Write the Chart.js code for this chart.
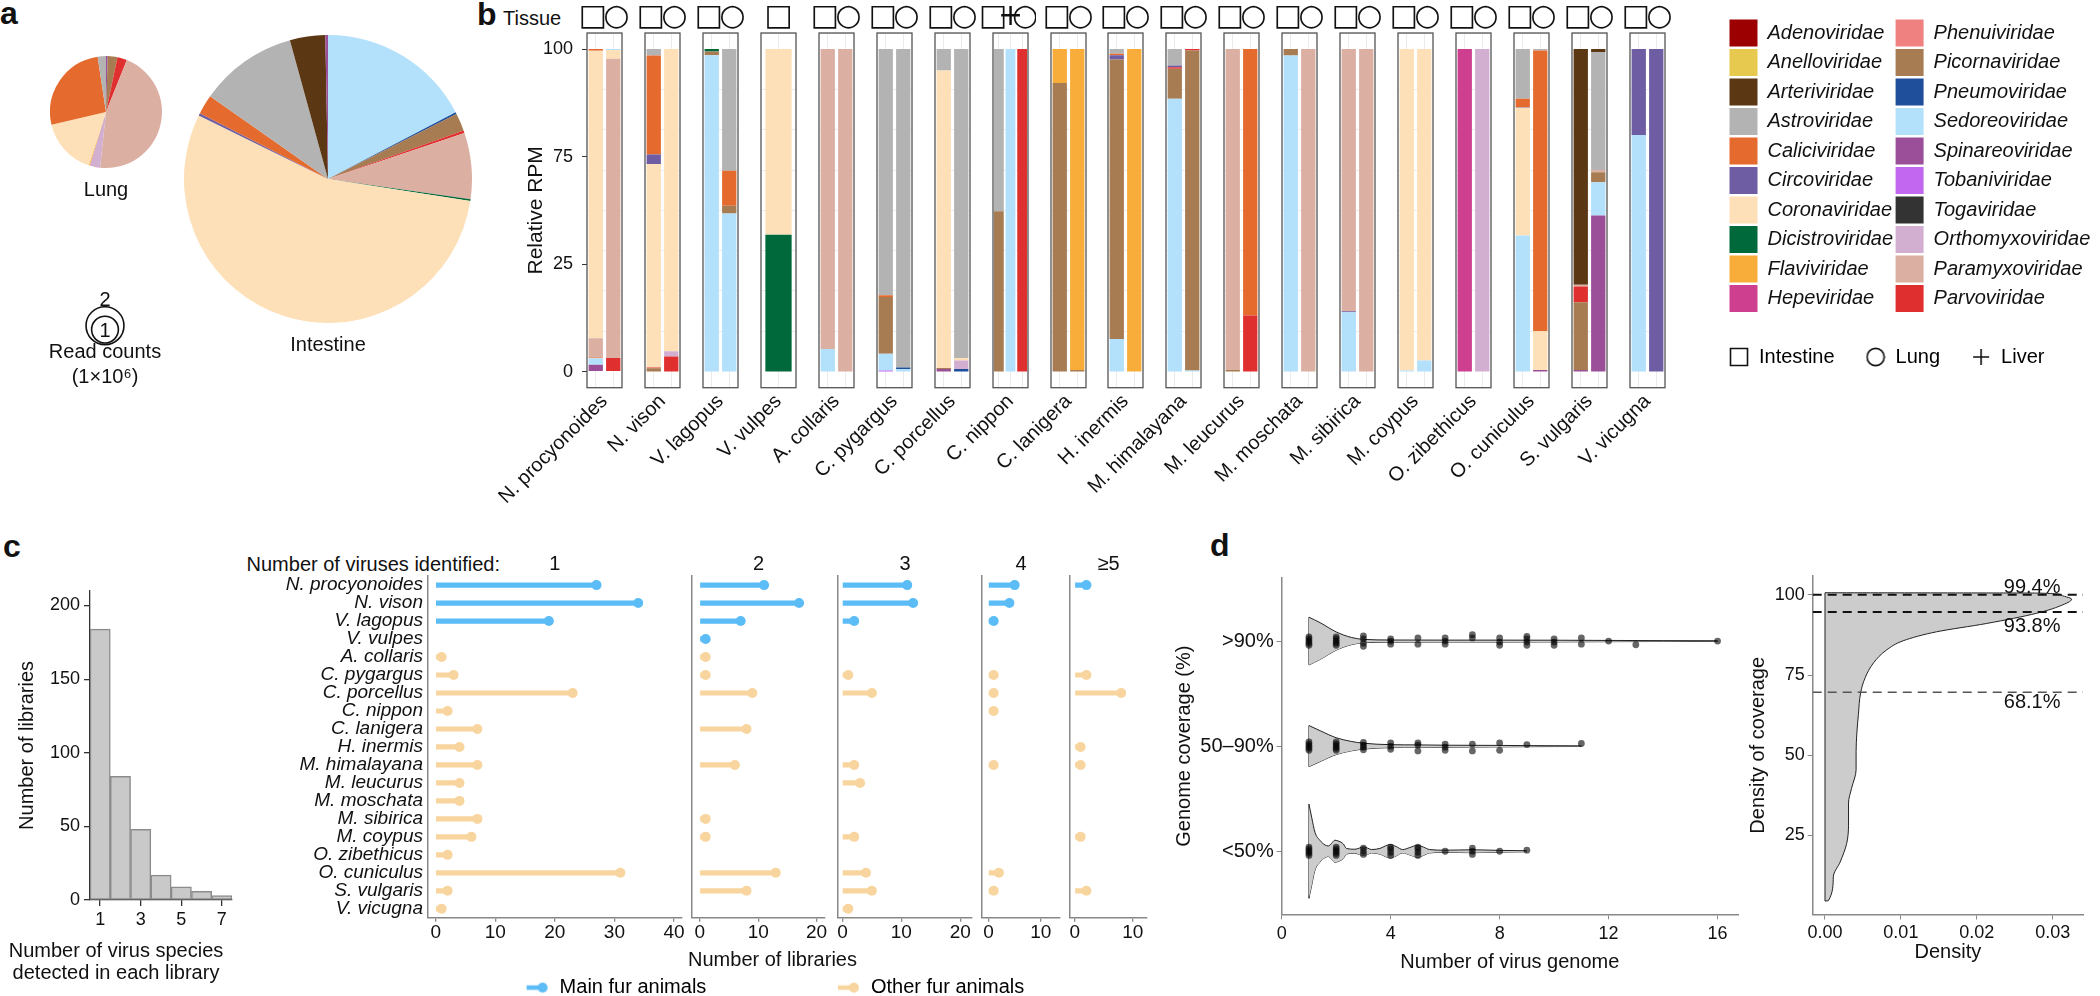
<!DOCTYPE html>
<html>
<head>
<meta charset="utf-8">
<script src="https://cdn.jsdelivr.net/npm/chart.js@4.4.1/dist/chart.umd.min.js"></script>
<style>
html, body { margin: 0; padding: 0; background: #fff; overflow: hidden; }
#page { position: relative; width: 2100px; height: 996px; overflow: hidden; font-family: "Liberation Sans", Arial, sans-serif; color: #111; }
#page canvas { position: absolute; }
.lbl { position: absolute; white-space: nowrap; }
.panel { font-weight: bold; font-size: 32px; line-height: 32px; }
</style>
</head>
<body>
<div id="page">
  <div class="lbl panel" style="left:0px;top:-3px">a</div>
  <div class="lbl panel" style="left:477px;top:-2px">b</div>
  <div class="lbl" style="left:503px;top:8px;font-size:20px;line-height:20px">Tissue</div>
  <div class="lbl panel" style="left:3px;top:530px">c</div>
  <div class="lbl" style="left:180px;width:320px;text-align:right;top:553px;font-size:20px;line-height:22px">Number of viruses identified:</div>
  <div class="lbl panel" style="left:1210px;top:529px">d</div>
</div>
<script>
// ---------- data ----------
const families = ['Adenoviridae', 'Anelloviridae', 'Arteriviridae', 'Astroviridae', 'Caliciviridae',
  'Circoviridae', 'Coronaviridae', 'Dicistroviridae', 'Flaviviridae', 'Hepeviridae',
  'Phenuiviridae', 'Picornaviridae', 'Pneumoviridae', 'Sedoreoviridae', 'Spinareoviridae',
  'Tobaniviridae', 'Togaviridae', 'Orthomyxoviridae', 'Paramyxoviridae', 'Parvoviridae'];
const familyColors = ['#9c0000', '#e8c94f', '#5b3713', '#b3b3b3', '#e56a2e',
  '#6e5da2', '#fde0b7', '#00693c', '#f8ad3a', '#cf3f8f',
  '#f08181', '#a77c53', '#1f4e9b', '#b3e0fb', '#9b4f98',
  '#c267f0', '#333333', '#d2afd1', '#dcafa3', '#e02f2f'];

// panel a: share of reads, clockwise from 12 o'clock
const lungFamilies = ['Spinareoviridae', 'Picornaviridae', 'Parvoviridae', 'Paramyxoviridae', 'Orthomyxoviridae',
  'Flaviviridae', 'Coronaviridae', 'Caliciviridae', 'Astroviridae'];
const lungShares = [0.5, 2.8, 2.8, 45.8, 3.0, 0.3, 16.4, 26.4, 2.4];
const intestineFamilies = ['Sedoreoviridae', 'Pneumoviridae', 'Picornaviridae', 'Parvoviridae', 'Paramyxoviridae',
  'Dicistroviridae', 'Coronaviridae', 'Circoviridae', 'Caliciviridae', 'Astroviridae', 'Arteriviridae', 'Spinareoviridae'];
const intestineShares = [17.5, 0.2, 2.0, 0.3, 7.5, 0.2, 55.3, 0.3, 2.2, 11.1, 4.0, 0.3];
const readCountLegend = [2, 1]; // x10^6 reads

// panel b: relative RPM per library, segments bottom -> top
const bSpecies = ['N. procyonoides', 'N. vison', 'V. lagopus', 'V. vulpes', 'A. collaris', 'C. pygargus',
  'C. porcellus', 'C. nippon', 'C. lanigera', 'H. inermis', 'M. himalayana', 'M. leucurus', 'M. moschata',
  'M. sibirica', 'M. coypus', 'O. zibethicus', 'O. cuniculus', 'S. vulgaris', 'V. vicugna'];
const bTissues = [['Intestine', 'Lung'], ['Intestine', 'Lung'], ['Intestine', 'Lung'], ['Intestine'],
  ['Intestine', 'Lung'], ['Intestine', 'Lung'], ['Intestine', 'Lung'], ['Intestine', 'Liver', 'Lung'],
  ['Intestine', 'Lung'], ['Intestine', 'Lung'], ['Intestine', 'Lung'], ['Intestine', 'Lung'], ['Intestine', 'Lung'],
  ['Intestine', 'Lung'], ['Intestine', 'Lung'], ['Intestine', 'Lung'], ['Intestine', 'Lung'], ['Intestine', 'Lung'],
  ['Intestine', 'Lung']];
const bTickValues = [0, 33.33, 66.67, 100];
const bTickLabels = ['0', '25', '75', '100'];

const procyonoidesRPM = [
  [['Spinareoviridae', 2.1], ['Sedoreoviridae', 2.0], ['Caliciviridae', 0.3], ['Paramyxoviridae', 5.9], ['Coronaviridae', 89.2], ['Caliciviridae', 0.5]],
  [['Parvoviridae', 4.2], ['Paramyxoviridae', 92.8], ['Coronaviridae', 2.7], ['Sedoreoviridae', 0.3]]];
const visonRPM = [
  [['Picornaviridae', 1.0], ['Parvoviridae', 0.3], ['Coronaviridae', 63.1], ['Circoviridae', 2.9], ['Caliciviridae', 30.7], ['Astroviridae', 2.0]],
  [['Parvoviridae', 4.7], ['Orthomyxoviridae', 1.6], ['Coronaviridae', 93.7]]];
const lagopusRPM = [
  [['Sedoreoviridae', 98.1], ['Picornaviridae', 1.2], ['Dicistroviridae', 0.7]],
  [['Sedoreoviridae', 49.0], ['Picornaviridae', 2.4], ['Caliciviridae', 10.9], ['Astroviridae', 37.7]]];
const vulpesRPM = [
  [['Dicistroviridae', 42.4], ['Coronaviridae', 57.6]]];
const collarisRPM = [
  [['Sedoreoviridae', 7.0], ['Paramyxoviridae', 93.0]],
  [['Paramyxoviridae', 100]]];
const pygargusRPM = [
  [['Tobaniviridae', 0.3], ['Sedoreoviridae', 5.2], ['Picornaviridae', 17.6], ['Caliciviridae', 0.6], ['Astroviridae', 76.3]],
  [['Sedoreoviridae', 0.8], ['Pneumoviridae', 0.5], ['Astroviridae', 98.7]]];
const porcellusRPM = [
  [['Spinareoviridae', 0.8], ['Picornaviridae', 0.3], ['Coronaviridae', 92.3], ['Astroviridae', 6.6]],
  [['Pneumoviridae', 0.8], ['Orthomyxoviridae', 2.6], ['Coronaviridae', 0.8], ['Astroviridae', 95.8]]];
const nipponRPM = [
  [['Picornaviridae', 49.7], ['Astroviridae', 50.3]],
  [['Sedoreoviridae', 100]],
  [['Parvoviridae', 100]]];
const lanigeraRPM = [
  [['Picornaviridae', 89.5], ['Flaviviridae', 10.5]],
  [['Picornaviridae', 0.5], ['Flaviviridae', 99.5]]];
const inermisRPM = [
  [['Sedoreoviridae', 10.1], ['Picornaviridae', 86.7], ['Circoviridae', 1.3], ['Caliciviridae', 0.5], ['Astroviridae', 1.4]],
  [['Flaviviridae', 100]]];
const himalayanaRPM = [
  [['Sedoreoviridae', 84.6], ['Picornaviridae', 9.3], ['Parvoviridae', 0.5], ['Circoviridae', 0.5], ['Astroviridae', 5.1]],
  [['Sedoreoviridae', 0.3], ['Picornaviridae', 99.3], ['Parvoviridae', 0.4]]];
const leucurusRPM = [
  [['Picornaviridae', 0.5], ['Paramyxoviridae', 99.5]],
  [['Parvoviridae', 17.4], ['Caliciviridae', 82.6]]];
const moschataRPM = [
  [['Sedoreoviridae', 98.0], ['Picornaviridae', 2.0]],
  [['Paramyxoviridae', 100]]];
const sibiricaRPM = [
  [['Sedoreoviridae', 18.4], ['Circoviridae', 0.3], ['Paramyxoviridae', 81.3]],
  [['Paramyxoviridae', 100]]];
const coypusRPM = [
  [['Sedoreoviridae', 0.3], ['Coronaviridae', 99.7]],
  [['Sedoreoviridae', 3.4], ['Coronaviridae', 96.6]]];
const zibethicusRPM = [
  [['Hepeviridae', 100]],
  [['Orthomyxoviridae', 100]]];
const cuniculusRPM = [
  [['Sedoreoviridae', 42.2], ['Coronaviridae', 39.6], ['Circoviridae', 0.2], ['Caliciviridae', 2.6], ['Astroviridae', 15.4]],
  [['Spinareoviridae', 0.5], ['Coronaviridae', 12.0], ['Caliciviridae', 87.1], ['Astroviridae', 0.4]]];
const vulgarisRPM = [
  [['Spinareoviridae', 0.5], ['Picornaviridae', 21.0], ['Parvoviridae', 4.9], ['Paramyxoviridae', 0.5], ['Arteriviridae', 73.1]],
  [['Spinareoviridae', 48.4], ['Sedoreoviridae', 10.3], ['Picornaviridae', 3.1], ['Paramyxoviridae', 0.7], ['Astroviridae', 36.6], ['Arteriviridae', 0.9]]];
const vicugnaRPM = [
  [['Sedoreoviridae', 73.4], ['Circoviridae', 26.6]],
  [['Circoviridae', 100]]];

// panel c
const hSpeciesCounts = ['1', '2', '3', '4', '5', '6', '7'];
const hLibraries = [184, 84, 48, 17, 9, 6, 3];
const cMainAnimals = ['N. procyonoides', 'N. vison', 'V. lagopus', 'V. vulpes'];
const cFacetTitles = ['1', '2', '3', '4', '\u22655'];
const cLib1 = [27, 34, 19, null, 1, 3, 23, 2, 7, 4, 7, 4, 4, 7, 6, 2, 31, 2, 1];
const cLib2 = [11, 17, 7, 1, 1, 1, 9, null, 8, null, 6, null, null, 1, 1, null, 13, 8, null];
const cLib3 = [11, 12, 2, null, null, 1, 5, null, null, null, 2, 3, null, null, 2, null, 4, 5, 1];
const cLib4 = [5, 4, 1, null, null, 1, 1, 1, null, null, 1, null, null, null, null, null, 2, 1, null];
const cLib5 = [2, null, null, null, null, 2, 8, null, null, 1, 1, null, null, null, 1, null, null, 2, null];
const cLegendLabels = ['Main fur animals', 'Other fur animals'];

// panel d: violin half-widths (in group units) and points [x, jitter]
const vGroups = ['<50%', '50\u201390%', '>90%'];
const vLt50X = [1, 1.1, 1.22, 1.4, 1.59, 1.71, 1.83, 1.95, 2.1, 2.26, 2.38, 2.69, 2.85, 2.99, 3.15, 3.3, 3.64, 3.8, 3.99, 4.2, 4.44, 4.7, 4.99, 5.2, 5.43, 6, 7, 8, 9];
const vLt50W = [0.448, 0.324, 0.181, 0.105, 0.06, 0.05, 0.075, 0.105, 0.095, 0.07, 0.026, 0.019, 0.03, 0.041, 0.03, 0.016, 0.03, 0.05, 0.064, 0.045, 0.016, 0.035, 0.057, 0.04, 0.016, 0.01, 0.014, 0.008, 0.005];
const v50X = [1, 1.41, 2, 2.55, 3, 4, 5, 6, 7, 8, 9, 10, 11];
const v50W = [0.196, 0.147, 0.08, 0.045, 0.028, 0.014, 0.012, 0.009, 0.008, 0.007, 0.005, 0.004, 0.003];
const vGt90X = [1, 1.41, 2, 2.55, 3, 4, 6, 8, 10, 12, 14, 16];
const vGt90W = [0.227, 0.175, 0.087, 0.035, 0.016, 0.01, 0.009, 0.009, 0.008, 0.006, 0.004, 0.003];
const vLt50Dots = [[1, -0.04], [1, -0.02], [1, 0], [1, 0.02], [1, 0.04], [2, -0.04], [2, -0.02], [2, 0], [2, 0.02], [2, 0.04],
  [3, -0.03], [3, 0], [3, 0.03], [4, -0.04], [4, -0.01], [4, 0.02], [4, 0.04], [5, -0.04], [5, -0.01], [5, 0.02], [5, 0.04],
  [6, 0], [7, -0.03], [7, 0], [7, 0.03], [8, 0], [9, 0.01]];
const v50Dots = [[1, -0.04], [1, -0.02], [1, 0], [1, 0.02], [1, 0.04], [2, -0.04], [2, -0.02], [2, 0], [2, 0.02], [2, 0.04],
  [3, -0.035], [3, -0.01], [3, 0.01], [3, 0.035], [4, -0.03], [4, 0], [4, 0.03], [5, -0.045], [5, 0.01], [5, 0.03],
  [6, -0.04], [6, -0.01], [6, 0.02], [7, -0.045], [7, 0.02], [8, -0.04], [8, 0.03], [9, 0.015], [11, 0.025]];
const vGt90Dots = [[1, -0.04], [1, -0.02], [1, 0], [1, 0.02], [1, 0.04], [2, -0.04], [2, -0.02], [2, 0], [2, 0.02], [2, 0.04],
  [3, -0.05], [3, -0.02], [3, 0.02], [3, 0.05], [4, -0.03], [4, 0], [4, 0.02], [5, -0.03], [5, 0.03], [6, -0.03], [6, 0], [6, 0.03],
  [7, 0.03], [7, 0.06], [8, -0.04], [8, -0.01], [8, 0.03], [9, -0.04], [9, -0.01], [9, 0.02], [9, 0.045],
  [10, -0.04], [10, -0.01], [10, 0.02], [11, -0.03], [11, 0.03], [12, 0], [13, -0.035], [16, 0]];

// panel d: density of genome coverage [density, coverage]
const dCurve = [[0, 4.4], [0.00044, 4.5], [0.0011, 12], [0.002, 16.6], [0.00286, 22.4], [0.0031, 28.1], [0.0031, 35],
  [0.0035, 39.6], [0.0041, 45.4], [0.0041, 51.1], [0.0042, 56.9], [0.0044, 62.6], [0.0047, 69.5], [0.0053, 74.2],
  [0.0064, 78.8], [0.0081, 82.8], [0.0103, 85.7], [0.0147, 88.5], [0.0213, 91.1], [0.0279, 94.3], [0.031, 96.6],
  [0.0325, 98.7], [0.031, 100.1], [0.0279, 100.6], [0, 100.7]];
const dCutoffs = [100.1, 94.7, 69.6];
const dCutoffLabels = ['99.4%', '93.8%', '68.1%'];
const dCutoffLabelY = [102.4, 90.3, 66.4];

// ---------- helpers ----------
Chart.defaults.font.family = '"Liberation Sans", Arial, sans-serif';
Chart.defaults.font.size = 18;
Chart.defaults.color = '#111';
Chart.defaults.animation = false;
Chart.defaults.responsive = false;
Chart.defaults.events = [];
Chart.defaults.plugins.legend.display = false;
Chart.defaults.plugins.tooltip.enabled = false;
Chart.defaults.elements.point.radius = 0;

const page = document.getElementById('page');
function addCanvas(left, top, width, height) {
  const c = document.createElement('canvas');
  c.width = Math.round(width);
  c.height = Math.round(height);
  c.style.left = Math.round(left) + 'px';
  c.style.top = Math.round(top) + 'px';
  page.appendChild(c);
  return c.getContext('2d');
}
function fixWidth(w) { return s => { s.width = w; s.paddingTop = 0; s.paddingBottom = 0; }; }
function fixHeight(h) { return s => { s.height = h; s.paddingLeft = 0; s.paddingRight = 0; }; }
function familyColor(f) { return familyColors[families.indexOf(f)]; }

const boxPlugin = {
  id: 'box',
  afterDatasetsDraw(chart) {
    const { ctx, chartArea: a } = chart;
    ctx.save();
    ctx.strokeStyle = '#555';
    ctx.lineWidth = 1.3;
    ctx.strokeRect(a.left, a.top, a.right - a.left, a.bottom - a.top);
    ctx.restore();
  }
};

// ---------- panel a ----------
function pieChart(ctx, labels, values, title) {
  return new Chart(ctx, {
    type: 'pie',
    data: { labels: labels, datasets: [{ data: values, backgroundColor: labels.map(familyColor), borderWidth: 0 }] },
    options: {
      layout: { padding: 0 },
      plugins: { title: { display: true, text: title, position: 'bottom', color: '#111',
        font: { size: 20, weight: 'normal' }, padding: { top: 10, bottom: 0 } } }
    }
  });
}
pieChart(addCanvas(50, 56, 112, 146), lungFamilies, lungShares, 'Lung');
pieChart(addCanvas(184, 35, 288, 322), intestineFamilies, intestineShares, 'Intestine');

const readRadius = v => 13.4 * Math.sqrt(v);
const bubbleText = {
  id: 'bubbleText',
  afterDatasetsDraw(chart) {
    const ctx = chart.ctx;
    ctx.save();
    ctx.font = '20px "Liberation Sans", Arial';
    ctx.fillStyle = '#111';
    ctx.textAlign = 'center';
    chart.getDatasetMeta(0).data.forEach((p, i) => {
      if (i === 0) { ctx.textBaseline = 'alphabetic'; ctx.fillText(String(readCountLegend[i]), p.x, p.y - p.options.radius - 1); }
      else { ctx.textBaseline = 'middle'; ctx.fillText(String(readCountLegend[i]), p.x, p.y + 2); }
    });
    ctx.restore();
  }
};
new Chart(addCanvas(45, 270, 120, 120), {
  type: 'bubble',
  data: { datasets: [{ data: readCountLegend.map(v => ({ x: 0, y: readRadius(v), r: readRadius(v) })),
    backgroundColor: 'rgba(0,0,0,0)', borderColor: '#111', borderWidth: 1.6, clip: false }] },
  options: {
    layout: { padding: 0 },
    scales: { x: { display: false, min: -1, max: 1 }, y: { display: false, min: 0, max: 69 } },
    plugins: { title: { display: true, position: 'bottom', text: ['Read counts', '(1\u00d710\u2076)'], color: '#111',
      font: { size: 20, weight: 'normal', lineHeight: 1.25 }, padding: { top: 1, bottom: 0 } } }
  },
  plugins: [bubbleText]
});

// ---------- panel b ----------
const bRPM = [procyonoidesRPM, visonRPM, lagopusRPM, vulpesRPM, collarisRPM, pygargusRPM, porcellusRPM, nipponRPM,
  lanigeraRPM, inermisRPM, himalayanaRPM, leucurusRPM, moschataRPM, sibiricaRPM, coypusRPM, zibethicusRPM,
  cuniculusRPM, vulgarisRPM, vicugnaRPM];
const tissueGlyph = { Intestine: '\u25A1', Lung: '\u25CB', Liver: '+' };
const bFacetLeft = 587, bFacetStep = 57.94, bFacetWidth = 34.6, bTop = 33, bBottom = 387.7;
const bPadL = 130, bCanvasH = 520;
// nudge first/last symbols apart so they sit side by side like the original key
function glyphLabel(tissues, j) {
  const g = tissueGlyph[tissues[j]];
  if (tissues.length === 1) return g;
  if (j === 0) return g + (tissues.length === 3 ? '\u2009\u2009' : '\u2009');
  if (j === tissues.length - 1) return '\u2009' + g;
  return g;
}

bSpecies.forEach((sp, i) => {
  const bars = bRPM[i];
  const tissues = bTissues[i];
  const n = tissues.length;
  const left = Math.round(bFacetLeft + i * bFacetStep);
  const cw = bPadL + bFacetWidth + 8;
  const ctx = addCanvas(left - bPadL, 0, cw, bCanvasH);
  const nSeg = Math.max(...bars.map(b => b.length));
  const datasets = [];
  for (let k = 0; k < nSeg; k++) {
    datasets.push({
      data: bars.map(b => (b[k] ? b[k][1] : 0)),
      backgroundColor: bars.map(b => (b[k] ? familyColor(b[k][0]) : 'rgba(0,0,0,0)')),
      borderWidth: 0, barPercentage: 0.9 * n / (n + 0.2), categoryPercentage: 1,
      xAxisID: 'x', yAxisID: 'y', stack: 'rpm'
    });
  }
  const yScale = {
    display: i === 0, stacked: true, min: -5, max: 105, position: 'left',
    afterBuildTicks: s => { s.ticks = bTickValues.map(v => ({ value: v })); },
    ticks: { callback: (v, j) => bTickLabels[j], font: { size: 18 }, padding: 9, color: '#111' },
    grid: { display: true, drawOnChartArea: false, tickLength: 5, color: '#333' },
    border: { display: false },
    title: { display: true, text: 'Relative RPM', font: { size: 21 }, color: '#111', padding: { top: 67, bottom: 0 } }
  };
  if (i === 0) yScale.afterFit = fixWidth(bPadL);
  new Chart(ctx, {
    type: 'bar',
    data: { labels: tissues, datasets: datasets },
    options: {
      layout: { padding: { left: i === 0 ? 0 : bPadL, right: cw - bPadL - bFacetWidth, top: 0, bottom: 0 } },
      scales: {
        x: { position: 'top', stacked: true, offset: true,
          grid: { display: true, color: '#ebebeb', drawTicks: false, offset: false },
          border: { display: false },
          ticks: { autoSkip: false, maxRotation: 0, padding: 4, color: '#111',
            font: { family: '"DejaVu Sans"', size: 30, lineHeight: 0.8 },
            callback: (v, j) => glyphLabel(tissues, j) },
          afterFit: fixHeight(bTop) },
        x2: { type: 'category', axis: 'x', position: 'bottom', labels: [sp], offset: true,
          grid: { display: false, drawTicks: false }, border: { display: false },
          ticks: { minRotation: 45, maxRotation: 45, font: { size: 20 }, color: '#111', padding: 2 },
          afterFit: fixHeight(bCanvasH - bBottom) },
        y: yScale,
        yg: { type: 'linear', position: 'left', min: -5, max: 105,
          ticks: { display: false, stepSize: 12.5 }, grid: { color: '#ebebeb', drawTicks: false },
          border: { display: false }, afterFit: fixWidth(0) }
      }
    },
    plugins: [boxPlugin]
  });
});

// legend of virus families
new Chart(addCanvas(1727, 17, 420, 312), {
  type: 'bar',
  data: { datasets: families.map((f, i) => ({ label: f, data: [], backgroundColor: familyColors[i], borderWidth: 0 })) },
  options: {
    layout: { padding: 0 },
    scales: { x: { display: false }, y: { display: false } },
    plugins: { legend: { display: true, position: 'left', align: 'start', maxWidth: 420,
      labels: { boxWidth: 28, boxHeight: 27, padding: 2.5, color: '#111', font: { size: 20, style: 'italic' } } } }
  }
});

// legend of tissue symbols
function tissueSymbol(t) {
  const c = document.createElement('canvas');
  c.width = 20; c.height = 20;
  const g = c.getContext('2d');
  g.strokeStyle = '#111'; g.lineWidth = 1.6;
  g.beginPath();
  if (t === 'Intestine') g.rect(1.5, 1.5, 17, 17);
  else if (t === 'Lung') g.arc(10, 10, 8.6, 0, Math.PI * 2);
  else { g.moveTo(2, 10); g.lineTo(18, 10); g.moveTo(10, 2); g.lineTo(10, 18); }
  g.stroke();
  return c;
}
new Chart(addCanvas(1698, 316, 402, 110), {
  type: 'bar',
  data: { datasets: [] },
  options: {
    layout: { padding: 0 },
    scales: { x: { display: false }, y: { display: false } },
    plugins: { legend: { display: true, position: 'top', align: 'start', maxHeight: 110,
      labels: { usePointStyle: true, pointStyleWidth: 20, padding: 31, color: '#111', font: { size: 20 },
        generateLabels: () => ['Intestine', 'Lung', 'Liver'].map(t => ({ text: t, pointStyle: tissueSymbol(t),
          fillStyle: 'rgba(0,0,0,0)', strokeStyle: 'rgba(0,0,0,0)', lineWidth: 0, hidden: false })) } } }
  }
});

// ---------- panel c: histogram ----------
new Chart(addCanvas(0, 580, 306, 404), {
  type: 'bar',
  data: { labels: hSpeciesCounts, datasets: [{ data: hLibraries, backgroundColor: '#c9c9c9', borderColor: '#8c8c8c',
    borderWidth: 1.5, borderSkipped: false, barPercentage: 1, categoryPercentage: 1 }] },
  options: {
    layout: { padding: { top: 10.8, right: 74, left: 0, bottom: 0 } },
    plugins: { title: { display: true, position: 'bottom', text: ['Number of virus species', 'detected in each library'],
      color: '#111', font: { size: 20, weight: 'normal', lineHeight: 1.1 }, padding: { top: 4, bottom: 0 } } },
    scales: {
      x: { offset: true,
        grid: { display: true, drawOnChartArea: false, offset: false, tickLength: 6, lineWidth: 1.3,
          color: c => (c.index % 2 ? 'rgba(0,0,0,0)' : '#333') },
        border: { display: true, color: '#333', width: 1.3 },
        ticks: { autoSkip: false, maxRotation: 0, padding: 3, font: { size: 18 }, color: '#111',
          callback: (v, i) => (i % 2 ? '' : hSpeciesCounts[i]) },
        afterFit: fixHeight(35.9) },
      y: { min: 0, max: 210,
        ticks: { stepSize: 50, includeBounds: false, font: { size: 18 }, padding: 4, color: '#111' },
        grid: { drawOnChartArea: false, tickLength: 6, color: '#333', lineWidth: 1.3 },
        border: { display: true, color: '#333', width: 1.3 },
        title: { display: true, text: 'Number of libraries', font: { size: 20 }, color: '#111', padding: { top: 15, bottom: 0 } },
        afterFit: fixWidth(90) }
    }
  }
});

// ---------- panel c: lollipops ----------
const cMainColor = '#5bbcf6', cOtherColor = '#f8d59e';
const cFacets = [cLib1, cLib2, cLib3, cLib4, cLib5];
const cFacetLeft = [427.7, 690, 836, 980, 1068.3];
const cFacetRight = [683, 826, 972.7, 1061, 1148];
const cFacetMin = [-1.34, -1.34, -0.75, -1.23, -0.83];
const cFacetMax = [41.35, 21.44, 22.0, 13.66, 12.45];
const cTop = 576.1, cBottom = 917.8, cCanvasTop = 540, cCanvasBottom = 945;
const cColors = bSpecies.map(s => (cMainAnimals.includes(s) ? cMainColor : cOtherColor));

cFacets.forEach((vals, f) => {
  const L = cFacetLeft[f], R = cFacetRight[f];
  const cl = f === 0 ? 280 : Math.floor(L) - 3;
  const cr = Math.ceil(R) + 4;
  const ctx = addCanvas(cl, cCanvasTop, cr - cl, cCanvasBottom - cCanvasTop);
  new Chart(ctx, {
    type: 'bar',
    data: { labels: bSpecies, datasets: [
      { type: 'line', data: vals, showLine: false, pointRadius: 5, pointBackgroundColor: cColors, pointBorderWidth: 0,
        indexAxis: 'y', xAxisID: 'x', yAxisID: 'y' },
      { type: 'bar', data: vals, backgroundColor: cColors, barThickness: 4.5, borderWidth: 0, xAxisID: 'x', yAxisID: 'y' }
    ] },
    options: {
      indexAxis: 'y',
      layout: { padding: { left: f === 0 ? 0 : L - cl, right: cr - R, top: 0, bottom: 0 } },
      scales: {
        x: { type: 'linear', position: 'bottom', min: cFacetMin[f], max: cFacetMax[f],
          ticks: { stepSize: 10, includeBounds: false, font: { size: 19 }, padding: 0, color: '#111' },
          grid: { drawOnChartArea: false, tickLength: 4, color: '#888', lineWidth: 1.3 },
          border: { color: '#888', width: 1.5 },
          afterFit: fixHeight(cCanvasBottom - cBottom) },
        y: { type: 'category', offset: true, grid: { display: false, drawTicks: false },
          border: { display: true, color: '#888', width: 1.5 },
          ticks: { display: f === 0, autoSkip: false, padding: 4.7, color: '#111', font: { size: 19, style: 'italic' } },
          afterFit: fixWidth(f === 0 ? L - cl : 0) },
        t: { type: 'category', axis: 'x', position: 'top', labels: [cFacetTitles[f]], offset: true,
          grid: { display: false, drawTicks: false }, border: { display: false },
          ticks: { font: { size: 20 }, padding: 0, color: '#111' },
          afterFit: fixHeight(cTop - cCanvasTop) }
      }
    }
  });
});

function lollipopGlyph(color) {
  const c = document.createElement('canvas');
  c.width = 149; c.height = 12;
  const g = c.getContext('2d');
  g.fillStyle = color;
  g.fillRect(126, 3.75, 18, 4.5);
  g.beginPath(); g.arc(142, 6, 5, 0, Math.PI * 2); g.fill();
  return c;
}
new Chart(addCanvas(395, 945, 755, 80), {
  type: 'bar',
  data: { datasets: [] },
  options: {
    layout: { padding: 0 },
    scales: { x: { display: false }, y: { display: false } },
    plugins: {
      title: { display: true, text: 'Number of libraries', color: '#111', font: { size: 20, weight: 'normal' }, padding: { top: 3, bottom: 0 } },
      legend: { display: true, position: 'top', align: 'start',
        labels: { usePointStyle: true, pointStyleWidth: 149, padding: 5.6, color: '#111', font: { size: 20 },
          generateLabels: () => cLegendLabels.map((t, i) => ({ text: t, pointStyle: lollipopGlyph(i === 0 ? cMainColor : cOtherColor),
            fillStyle: 'rgba(0,0,0,0)', strokeStyle: 'rgba(0,0,0,0)', lineWidth: 0, hidden: false })) } }
    }
  }
});

// ---------- panel d: violins ----------
const violinSets = [[vLt50X, vLt50W, vLt50Dots], [v50X, v50W, v50Dots], [vGt90X, vGt90W, vGt90Dots]];
const vDatasets = [];
violinSets.forEach(([xs, ws, dots], g) => {
  const c = g + 1;
  vDatasets.push({ type: 'scatter', data: dots.map(([x, dy]) => ({ x: x, y: c + dy })), pointRadius: 3.4,
    pointBackgroundColor: 'rgba(0,0,0,0.6)', pointBorderWidth: 0, order: 0 });
  vDatasets.push({ type: 'line', data: xs.map((x, i) => ({ x: x, y: c + ws[i] })), fill: '+1', backgroundColor: '#cccccc',
    borderColor: '#222', borderWidth: 1, cubicInterpolationMode: 'monotone', order: 1 });
  vDatasets.push({ type: 'line', data: xs.map((x, i) => ({ x: x, y: c - ws[i] })), fill: false,
    borderColor: '#222', borderWidth: 1, cubicInterpolationMode: 'monotone', order: 1 });
  vDatasets.push({ type: 'line', data: [{ x: xs[0], y: c - ws[0] }, { x: xs[0], y: c + ws[0] }], fill: false,
    borderColor: '#222', borderWidth: 1, order: 1 });
});
new Chart(addCanvas(1160, 560, 586, 414), {
  type: 'line',
  data: { datasets: vDatasets },
  options: {
    layout: { padding: { top: 18, right: 8, left: 0, bottom: 0 } },
    scales: {
      x: { type: 'linear', min: 0, max: 16.75,
        ticks: { stepSize: 4, includeBounds: false, font: { size: 18 }, padding: 4.4, color: '#111' },
        grid: { drawOnChartArea: false, tickLength: 5, color: '#888' },
        border: { color: '#888', width: 1.5 },
        title: { display: true, text: 'Number of virus genome', font: { size: 20 }, color: '#111', padding: 0 },
        afterFit: fixHeight(59.7) },
      y: { type: 'linear', min: 0.4, max: 3.6,
        afterBuildTicks: s => { s.ticks = vGroups.map((_, i) => ({ value: i + 1 })); },
        ticks: { callback: v => vGroups[v - 1], font: { size: 20 }, padding: 3, color: '#111' },
        grid: { drawOnChartArea: false, tickLength: 5, color: '#888' },
        border: { color: '#888', width: 1.5 },
        title: { display: true, text: 'Genome coverage (%)', font: { size: 20 }, color: '#111', padding: { top: 12.4, bottom: 0 } },
        afterFit: fixWidth(121.7) }
    }
  }
});

// ---------- panel d: density ----------
const dXMin = -0.00162, dXMax = 0.034;
const dashLabels = {
  id: 'dashLabels',
  afterDatasetsDraw(chart) {
    const { ctx, scales } = chart;
    ctx.save();
    ctx.font = '20px "Liberation Sans", Arial';
    ctx.fillStyle = '#111';
    ctx.textAlign = 'center';
    ctx.textBaseline = 'middle';
    dCutoffLabels.forEach((t, i) => ctx.fillText(t, scales.x.getPixelForValue(0.0273), scales.y.getPixelForValue(dCutoffLabelY[i])));
    ctx.restore();
  }
};
const dDatasets = dCutoffs.map((v, i) => ({
  data: [{ x: dXMin, y: v }, { x: dXMax, y: v }], fill: false, order: 0,
  borderColor: i < 2 ? '#111' : '#555', borderWidth: i < 2 ? 2 : 1.5, borderDash: [9, 6]
}));
dDatasets.push({ data: dCurve.map(([d, c]) => ({ x: d, y: c })), indexAxis: 'y', fill: 'origin', backgroundColor: '#cccccc',
  borderColor: '#222', borderWidth: 1, cubicInterpolationMode: 'monotone', order: 2 });
dDatasets.push({ data: [{ x: 0, y: dCurve[0][1] }, { x: 0, y: dCurve[dCurve.length - 1][1] }], indexAxis: 'y', fill: false,
  borderColor: '#222', borderWidth: 1, order: 1 });
new Chart(addCanvas(1735, 560, 365, 404), {
  type: 'line',
  data: { datasets: dDatasets },
  options: {
    layout: { padding: { top: 16.1, right: 17, left: 0, bottom: 0 } },
    scales: {
      x: { type: 'linear', min: dXMin, max: dXMax,
        ticks: { stepSize: 0.01, includeBounds: false, callback: v => v.toFixed(2), font: { size: 18 }, padding: 2.6, color: '#111' },
        grid: { drawOnChartArea: false, tickLength: 5, color: '#888' },
        border: { color: '#888', width: 1.5 },
        title: { display: true, text: 'Density', font: { size: 20 }, color: '#111', padding: 0 },
        afterFit: fixHeight(49.5) },
      y: { type: 'linear', min: 0.2, max: 105.9,
        ticks: { stepSize: 25, includeBounds: false, font: { size: 18 }, padding: 3, color: '#111' },
        grid: { drawOnChartArea: false, tickLength: 5, color: '#888' },
        border: { color: '#888', width: 1.5 },
        title: { display: true, text: 'Density of coverage', font: { size: 20 }, color: '#111', padding: { top: 11, bottom: 0 } },
        afterFit: fixWidth(77.7) }
    }
  },
  plugins: [dashLabels]
});
</script>
</body>
</html>
